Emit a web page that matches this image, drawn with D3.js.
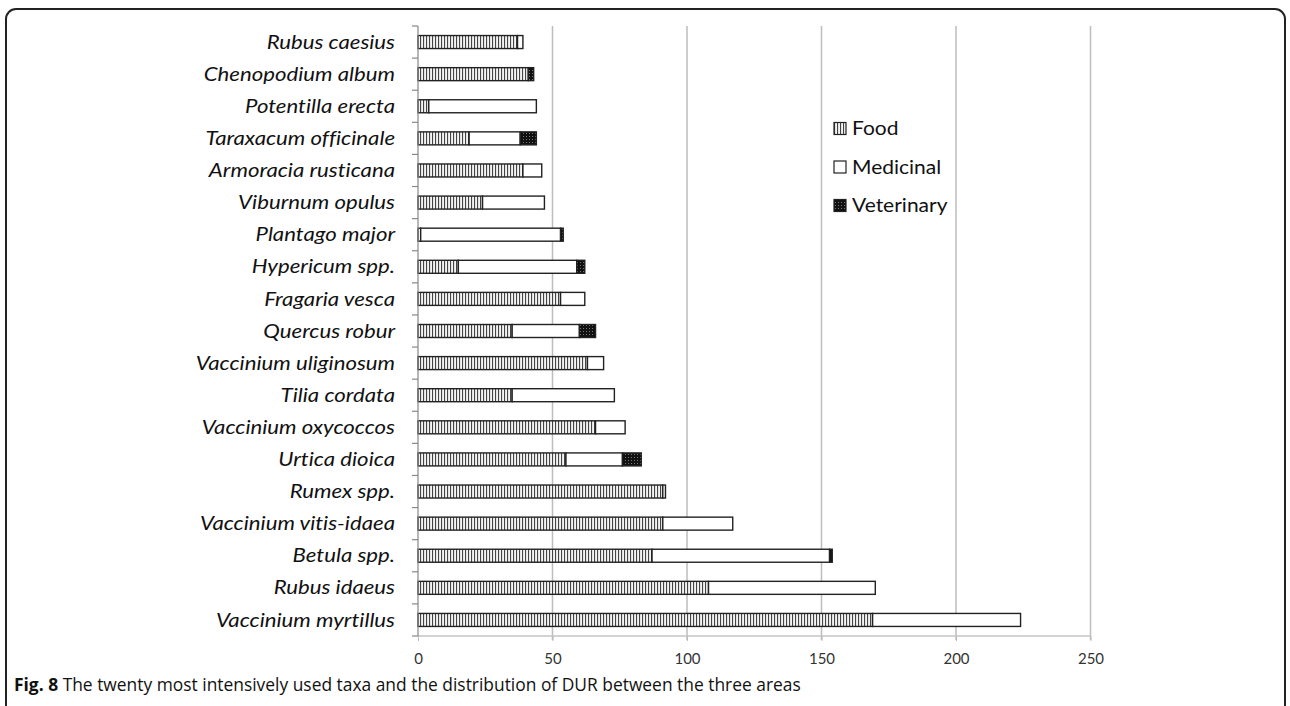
<!DOCTYPE html>
<html><head><meta charset="utf-8">
<script src="https://cdn.jsdelivr.net/npm/d3@7"></script>
<style>
html,body{margin:0;padding:0;background:#fff;}
svg{display:block;}
text{font-variant-ligatures:none;font-feature-settings:"liga" 0,"clig" 0;}
</style></head>
<body>
<svg id="chart" width="1290" height="706"></svg>
<script>
const categories = ["Rubus caesius","Chenopodium album","Potentilla erecta","Taraxacum officinale","Armoracia rusticana","Viburnum opulus","Plantago major","Hypericum spp.","Fragaria vesca","Quercus robur","Vaccinium uliginosum","Tilia cordata","Vaccinium oxycoccos","Urtica dioica","Rumex spp.","Vaccinium vitis-idaea","Betula spp.","Rubus idaeus","Vaccinium myrtillus"];
const food       = [37,41,4,19,39,24,1,15,53,35,63,35,66,55,91,91,87,108,169];
const medicinal  = [2,0,40,19,7,23,52,44,9,25,6,38,11,21,1,26,66,62,55];
const veterinary = [0,2,0,6,0,0,1,3,0,6,0,0,0,7,0,0,1,0,0];
const seriesNames = ["Food","Medicinal","Veterinary"];
const xTicks = [0,50,100,150,200,250];
const caption = "The twenty most intensively used taxa and the distribution of DUR between the three areas";

const svg = d3.select("#chart");
const defs = svg.append("defs");
const pf = defs.append("pattern").attr("id","pFood").attr("patternUnits","userSpaceOnUse").attr("width",3).attr("height",4);
pf.append("rect").attr("width",3).attr("height",4).attr("fill","#f4f4f4");
pf.append("rect").attr("x",0).attr("width",1.1).attr("height",4).attr("fill","#444");
const pv = defs.append("pattern").attr("id","pVet").attr("patternUnits","userSpaceOnUse").attr("width",3).attr("height",3);
pv.append("rect").attr("width",3).attr("height",3).attr("fill","#111");
pv.append("rect").attr("x",1).attr("y",1).attr("width",1).attr("height",1).attr("fill","#777");
const fills = {Food:"url(#pFood)", Medicinal:"#fff", Veterinary:"url(#pVet)"};

// frame
svg.append("rect").attr("x",6).attr("y",9).attr("width",1279).attr("height",720).attr("rx",10)
  .attr("fill","none").attr("stroke","#222").attr("stroke-width",2);

const x = d3.scaleLinear().domain([0,250]).range([418,1090.5]);
const y = d3.scaleBand().domain(categories).range([26,636]).padding(0);
const barH = 13;

// gridlines
svg.append("g").selectAll("line").data(xTicks.filter(d=>d>0)).join("line")
  .attr("x1",d=>x(d)).attr("x2",d=>x(d)).attr("y1",26).attr("y2",640)
  .attr("stroke","#bdbdbd").attr("stroke-width",1.5);

// x axis line
svg.append("line").attr("x1",x(0)).attr("x2",x(250)).attr("y1",636).attr("y2",636)
  .attr("stroke","#c4c4c4").attr("stroke-width",1.5);

// x tick labels
const xa = d3.axisBottom(x).tickValues(xTicks).tickSize(5).tickPadding(12);
const gx = svg.append("g").attr("transform","translate(0,636)").call(xa);
gx.select(".domain").remove();
gx.selectAll(".tick line").attr("stroke","#bbb");
gx.selectAll("text").attr("font-family","Lato, 'Noto Sans', sans-serif").attr("font-size",15).attr("fill","#333");

// stacked data
const rows = categories.map((c,i)=>({cat:c, Food:food[i], Medicinal:medicinal[i], Veterinary:veterinary[i]}));
const stack = d3.stack().keys(seriesNames)(rows);
const gBars = svg.append("g");
stack.forEach(layer=>{
  gBars.append("g").selectAll("rect").data(layer.filter(d=>d[1]-d[0]>0)).join("rect")
    .attr("x",d=>x(d[0])).attr("width",d=>x(d[1])-x(d[0]))
    .attr("y",d=>y(d.data.cat)+y.bandwidth()/2-barH/2).attr("height",barH)
    .attr("fill",fills[layer.key]).attr("stroke","#222").attr("stroke-width",1.4);
});

// y axis
svg.append("line").attr("x1",x(0)).attr("x2",x(0)).attr("y1",26).attr("y2",636)
  .attr("stroke","#888").attr("stroke-width",1.2);
const bounds = categories.map(c=>y(c)).concat([y(categories[categories.length-1])+y.step()]);
svg.append("g").selectAll("line").data(bounds).join("line")
  .attr("x1",x(0)-6).attr("x2",x(0)).attr("y1",d=>d).attr("y2",d=>d)
  .attr("stroke","#888").attr("stroke-width",1.2);
svg.append("g").attr("transform","translate(395,0) scale(1.2,1)")
  .selectAll("text").data(categories).join("text")
  .attr("x",0).attr("y",d=>y(d)+y.bandwidth()/2).attr("dy","0.36em")
  .attr("text-anchor","end").attr("font-family","Lato, sans-serif").attr("font-style","italic")
  .attr("font-size",18.5).attr("fill","#111").text(d=>d);

// legend
const lg = svg.append("g");
seriesNames.forEach((s,i)=>{
  const by = 135 + i*38.5;
  lg.append("rect").attr("x",834).attr("y",by-12.5).attr("width",12).attr("height",12)
    .attr("fill",fills[s]).attr("stroke","#222").attr("stroke-width",1.2);
  lg.append("text").attr("transform",`translate(852,${by}) scale(1.05,1)`).attr("font-family","Lato, sans-serif")
    .attr("font-size",20).attr("fill","#111").text(s);
});

// caption
const cap = svg.append("text").attr("x",14).attr("y",691).attr("font-family","'Open Sans', sans-serif").attr("font-size",17.4).attr("fill","#111");
cap.append("tspan").attr("font-weight","bold").text("Fig. 8");
cap.append("tspan").text(" " + caption);
</script>
</body></html>
